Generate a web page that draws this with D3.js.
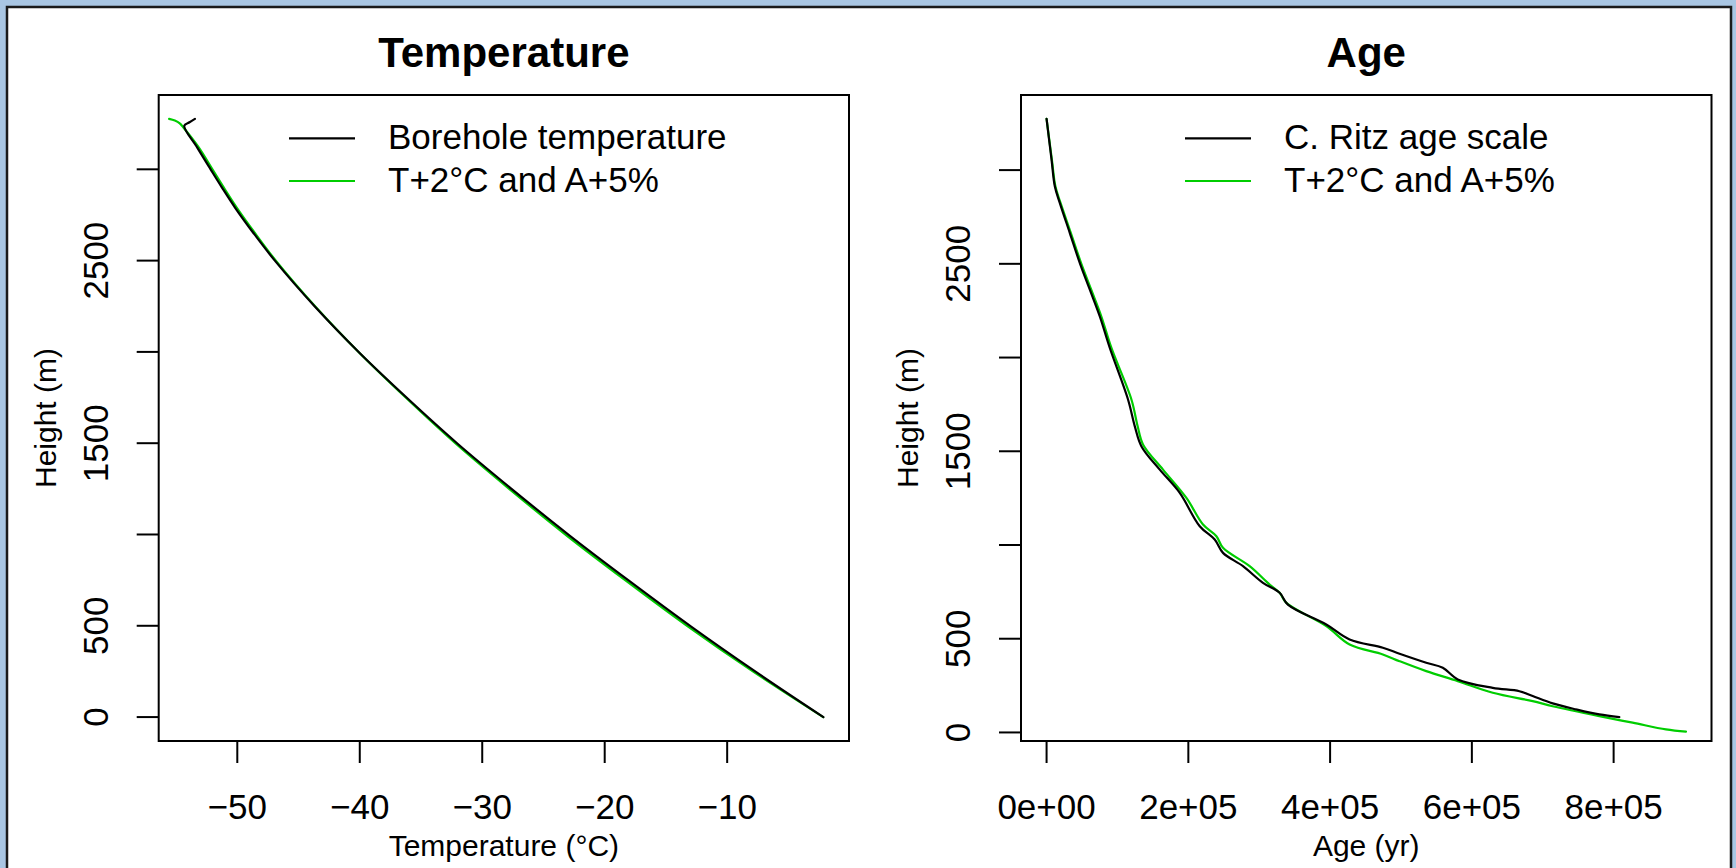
<!DOCTYPE html>
<html><head><meta charset="utf-8">
<script src="https://cdn.jsdelivr.net/npm/d3@7"></script>
<style>
body{margin:0;background:#a9c6e3;}
svg{display:block;}
text{font-family:"Liberation Sans",Arial,Helvetica,sans-serif;fill:#000;}
</style>
</head><body><svg id="c" width="1736" height="868"></svg>
<script>
// ---- Temperature panel data ----
const boreholeTemp   = [-53.46,-53.9,-54.33,-53.28,-52.18,-51.25,-50.16,-48.67,-46.9,-43.69,-40.01,-36.18,-32.01,-27.61,-22.84,-18.08,-12.97,-7.71,-2.14];
const boreholeHeight = [3276,3258,3239,3120,3000,2900,2788,2650,2497,2250,1994,1750,1497,1250,993,750,497,250,0];
const modelTemp      = [-55.57,-55.1,-54.7,-54.35,-53.15,-52.03,-51.1,-50.02,-48.55,-46.82,-43.65,-40.02,-36.25,-32.15,-27.8,-23.08,-18.33,-13.22,-7.9,-2.16];
const modelHeight    = [3276,3267,3252,3225,3120,3000,2900,2788,2650,2497,2250,1994,1750,1497,1250,993,750,497,250,0];

// ---- Age panel data ----
const ritzAge    = [0,7047,11700,18750,32840,46930,61030,75120,89210,115000,124500,133900,159700,187900,216100,237200,248900,277100,305300,328800,340500,394600,427500,474400,498000,535600,559000,580100,629500,667100,685800,714000,747000,779800,808000];
const ritzHeight = [3273,3055,2912,2824,2664,2504,2362,2219,2051,1775,1633,1526,1402,1278,1100,1029,958,887,798,745,682,576,496,452,420,372,345,283,238,220,194,155,123,96,82];
const modelAge       = [0,7500,12500,19800,34300,48700,63000,77300,91500,119800,128500,136200,164300,197300,220700,239600,248900,286500,314700,328800,338300,394600,427500,474400,498000,535600,580100,629500,685800,714000,779800,826800,873800,902000];
const modelAgeHeight = [3273,3055,2912,2824,2664,2504,2362,2219,2051,1775,1633,1535,1402,1251,1109,1047,985,887,789,745,691,567,469,416,380,327,274,212,167,140,87,52,16,4];

// ---- Axes / labels ----
const heightTicks = [0,500,1000,1500,2000,2500,3000];
const heightTickLabels = ["0","500","","1500","","2500",""];
const tempTicks = [-50,-40,-30,-20,-10];
const tempTickLabels = ["\u221250","\u221240","\u221230","\u221220","\u221210"];
const ageTicks = [0,200000,400000,600000,800000];
const ageTickLabels = ["0e+00","2e+05","4e+05","6e+05","8e+05"];
const tempLegend = ["Borehole temperature","T+2\u00B0C and A+5%"];
const ageLegend = ["C. Ritz age scale","T+2\u00B0C and A+5%"];
const seriesColors = ["#000000","#00cd00"];

const svg = d3.select("#c");
svg.append("rect").attr("x",0).attr("y",0).attr("width",1736).attr("height",868).attr("fill","#a9c6e3");
svg.append("rect").attr("x",7).attr("y",7).attr("width",1724).attr("height",900)
  .attr("fill","#fff").attr("stroke","#1a1a1a").attr("stroke-width",2.5);

function pad(ext){const r=ext[1]-ext[0];return [ext[0]-0.04*r, ext[1]+0.04*r];}

function panel(o){
  const x = d3.scaleLinear().domain(pad(o.xExt)).range([o.x0,o.x1]);
  const y = d3.scaleLinear().domain(pad(o.yExt)).range([o.y1,o.y0]);
  const g = svg.append("g");
  const line = d3.line().x(d=>x(d[0])).y(d=>y(d[1])).curve(d3.curveCatmullRom.alpha(0.5));
  [1,0].forEach(i=>{
    const s=o.series[i];
    const pts=s.x.map((v,k)=>[v,s.y[k]]);
    g.append("path").attr("d",line(pts)).attr("fill","none")
      .attr("stroke",seriesColors[i]).attr("stroke-width",2.2).attr("stroke-linejoin","round").attr("stroke-linecap","round");
  });
  g.append("rect").attr("x",o.x0).attr("y",o.y0).attr("width",o.x1-o.x0).attr("height",o.y1-o.y0)
    .attr("fill","none").attr("stroke","#000").attr("stroke-width",2);
  o.xTicks.forEach((t,i)=>{
    g.append("line").attr("x1",x(t)).attr("x2",x(t)).attr("y1",o.y1).attr("y2",o.y1+22).attr("stroke","#000").attr("stroke-width",2);
    g.append("text").attr("x",x(t)).attr("y",819).attr("text-anchor","middle").attr("font-size",35).text(o.xLabels[i]);
  });
  heightTicks.forEach((t,i)=>{
    g.append("line").attr("x1",o.x0-22).attr("x2",o.x0).attr("y1",y(t)).attr("y2",y(t)).attr("stroke","#000").attr("stroke-width",2);
    if(heightTickLabels[i])
      g.append("text").attr("transform",`translate(${o.x0-51},${y(t)}) rotate(-90)`).attr("text-anchor","middle").attr("font-size",35).text(heightTickLabels[i]);
  });
  const cx=(o.x0+o.x1)/2;
  g.append("text").attr("x",cx).attr("y",66.5).attr("text-anchor","middle").attr("font-size",42).attr("font-weight","bold").text(o.title);
  g.append("text").attr("x",cx).attr("y",855.5).attr("text-anchor","middle").attr("font-size",30).text(o.xTitle);
  g.append("text").attr("transform",`translate(${o.x0-103},${(o.y0+o.y1)/2}) rotate(-90)`).attr("text-anchor","middle").attr("font-size",30).text("Height (m)");
  const ly=[138.3,181];
  o.legend.forEach((lab,i)=>{
    g.append("line").attr("x1",o.legX).attr("x2",o.legX+66).attr("y1",ly[i]).attr("y2",ly[i]).attr("stroke",seriesColors[i]).attr("stroke-width",2.2);
    g.append("text").attr("x",o.legX+99).attr("y",ly[i]+11).attr("font-size",35).text(lab);
  });
}

panel({x0:158.7,x1:849,y0:95,y1:741, legX:289,
  xExt:d3.extent(boreholeTemp), yExt:d3.extent(boreholeHeight),
  series:[{x:boreholeTemp,y:boreholeHeight},{x:modelTemp,y:modelHeight}],
  xTicks:tempTicks, xLabels:tempTickLabels,
  title:"Temperature", xTitle:"Temperature (\u00B0C)", legend:tempLegend});

panel({x0:1021,x1:1711.5,y0:95,y1:741, legX:1185,
  xExt:d3.extent(ritzAge.concat(modelAge)), yExt:d3.extent(ritzHeight),
  series:[{x:ritzAge,y:ritzHeight},{x:modelAge,y:modelAgeHeight}],
  xTicks:ageTicks, xLabels:ageTickLabels,
  title:"Age", xTitle:"Age (yr)", legend:ageLegend});
</script>
</body></html>
